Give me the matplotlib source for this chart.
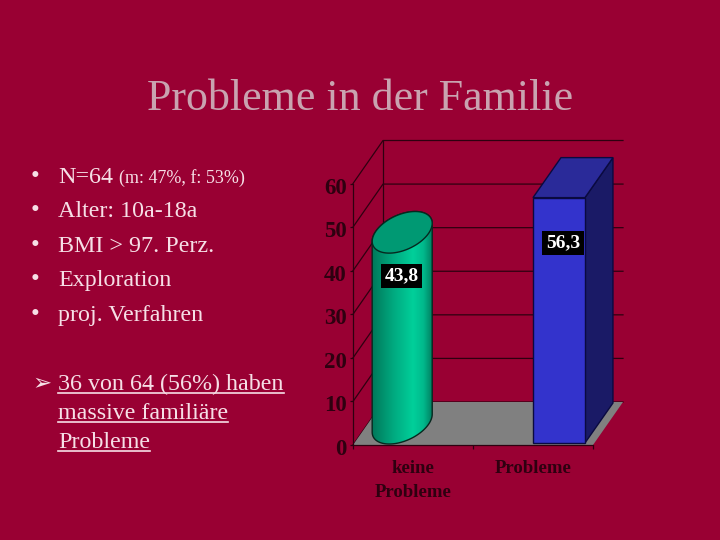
import numpy as np
import matplotlib
matplotlib.use("Agg")
import matplotlib.pyplot as plt
from matplotlib.lines import Line2D
from matplotlib.patches import Polygon
from matplotlib.transforms import ScaledTranslation

plt.rcParams['font.family'] = ['Liberation Serif', 'DejaVu Sans']

title = "Probleme in der Familie"
bullets = ["N=64", "Alter: 10a-18a", "BMI > 97. Perz.", "Exploration", "proj. Verfahren"]
bullet_small = "(m: 47%, f: 53%)"
conclusion = ["36 von 64 (56%) haben", "massive familiäre", "Probleme"]
categories = ["keine\nProbleme", "Probleme"]
values = [43.8, 56.3]
labels = ["43,8", "56,3"]
yticks = [0, 10, 20, 30, 40, 50, 60]

bg = "#990033"
ink = "#2e0010"
body = "#f6dfe6"

W, H = 720, 540
fig = plt.figure(figsize=[7.2, 5.4], dpi=100, facecolor=bg)


def slide_text(x, y, s, **kw):
    return fig.text(x / W, 1 - y / H, s, va="baseline", **kw)


slide_text(360, 110, title, fontsize=31.7, color="#c9a3b0", ha="center")

base = [183, 217, 252, 286, 321]
for y, s in zip(base, bullets):
    slide_text(31, y, "•", fontsize=18, color=body)
    slide_text(58, y, s, fontsize=17.3, color=body)
slide_text(119, base[0], bullet_small, fontsize=13, color=body)

slide_text(32, 390, "➢", fontsize=16.5, color=body, family="DejaVu Sans")
fig.canvas.draw()
rend = fig.canvas.get_renderer()
for y, s in zip([390, 419, 448], conclusion):
    t = slide_text(58, y, s, fontsize=17.3, color=body)
    ext = t.get_window_extent(rend)
    fig.add_artist(Line2D([58 / W, ext.x1 / W], [1 - (y + 3) / H] * 2, color=body, lw=1.2))

# chart axes: x 353-593 px, y 445-183.5 px
ax = fig.add_axes([353 / W, 1 - 445 / H, 240 / W, 261.5 / H])
ax.set_xlim(0, 2)
ax.set_ylim(0, 60)
ax.patch.set_visible(False)
ux, uy = 120.0, 261.5 / 60  # px per data unit
dx, dy = 30 / ux, 43 / uy   # depth of the 3d box

# walls and grid
for v in yticks:
    ax.plot([0, dx, 2 + dx], [v, v + dy, v + dy], color=ink, lw=0.9, clip_on=False, zorder=1)
ax.plot([dx, dx], [dy, 60 + dy], color=ink, lw=0.9, clip_on=False, zorder=1)
ax.add_patch(Polygon([[0, 0], [dx, dy], [2 + dx, dy], [2, 0]], fc="#808080", ec="none",
                     clip_on=False, zorder=2))

# cylinder
c_x, c_r = 0.41, 5.0
u = np.array([29.6 / ux, 12 / uy])
v = np.array([-5 / ux, 17 / uy])
t0 = np.arctan2(-5, 29.6)


def ell(cx, cy, a, b):
    t = np.linspace(a, b, 80)
    return np.column_stack([cx + u[0] * np.cos(t) + v[0] * np.sin(t),
                            cy + u[1] * np.cos(t) + v[1] * np.sin(t)])


top_y = c_r + values[0]
low = ell(c_x, c_r, t0 + np.pi, t0 + 2 * np.pi)
up = ell(c_x, top_y, t0, t0 + np.pi)
outline = Polygon(np.vstack([low, up]), fc="none", ec="#06281f", lw=1.0, zorder=5, clip_on=False)
half = np.hypot(u[0], v[0])
stops = np.array([0.0, 0.35, 0.68, 0.85, 1.0])
r = np.zeros(120)
g = np.interp(np.linspace(0, 1, 120), stops, [120, 170, 208, 185, 125])
b = np.interp(np.linspace(0, 1, 120), stops, [90, 128, 155, 140, 95])
grad = np.dstack([r, g, b]).reshape(1, 120, 3).astype(np.uint8)
im = ax.imshow(grad, extent=[c_x - half, c_x + half, 0, 60], aspect="auto", zorder=4)
clip = Polygon(np.vstack([low, up]), transform=ax.transData, fc="none", ec="none")
ax.add_patch(clip)
im.set_clip_path(clip)
ax.add_patch(outline)
ax.add_patch(Polygon(ell(c_x, top_y, 0, 2 * np.pi), fc="#009973", ec="#06281f", lw=1.0,
                     zorder=6, clip_on=False))

# box
lift = 2 / uy
x0, x1 = 1.5, 1.933
bx, by = 28 / ux, 40 / uy
y1 = values[1] + lift
edge = "#0a0a40"
ax.add_patch(Polygon([[x1, lift], [x1 + bx, lift + by], [x1 + bx, y1 + by], [x1, y1]],
                     fc="#1a1a66", ec=edge, lw=1.0, zorder=4, clip_on=False))
ax.add_patch(Polygon([[x0, y1], [x0 + bx, y1 + by], [x1 + bx, y1 + by], [x1, y1]],
                     fc="#2a2a99", ec=edge, lw=1.0, zorder=4, clip_on=False))
ax.bar([(x0 + x1) / 2], [values[1]], width=x1 - x0, bottom=lift, color="#3333cc", ec=edge, lw=1.0, zorder=5)

# data labels
label_x = [(401.7 - 353) / ux, (563 - 353) / ux]
label_y = [(445 - 276) / uy, (445 - 243) / uy]
for lx, ly, s in zip(label_x, label_y, labels):
    ax.text(lx, ly, s, color="white", fontsize=14, fontweight="bold", ha="center", va="center", zorder=8,
            bbox=dict(fc="black", ec="none", pad=2.5))

ax.set_xlim(0, 2)
ax.set_ylim(0, 60)
for s in ["top", "right"]:
    ax.spines[s].set_visible(False)
for s in ["left", "bottom"]:
    ax.spines[s].set_color(ink)
    ax.spines[s].set_linewidth(0.9)
ax.set_yticks(yticks)
ax.set_yticklabels([str(v) for v in yticks], fontsize=16.5, fontweight="bold", color=ink)
ax.set_xticks([0.5, 1.5])
ax.set_xticklabels(categories, fontsize=13.5, fontweight="bold", color=ink, linespacing=1.5)
ax.set_xticks([0, 1, 2], minor=True)
ax.tick_params(axis="y", length=2, width=0.9, color=ink, pad=2.5)
ax.tick_params(axis="x", which="major", length=0, pad=11)
ax.tick_params(axis="x", which="minor", length=3, width=0.9, color=ink)
shift = ScaledTranslation(0, -2 / 100, fig.dpi_scale_trans)
for lab in ax.get_yticklabels():
    lab.set_transform(lab.get_transform() + shift)

fig.savefig("out.png", dpi=100, facecolor=bg)
